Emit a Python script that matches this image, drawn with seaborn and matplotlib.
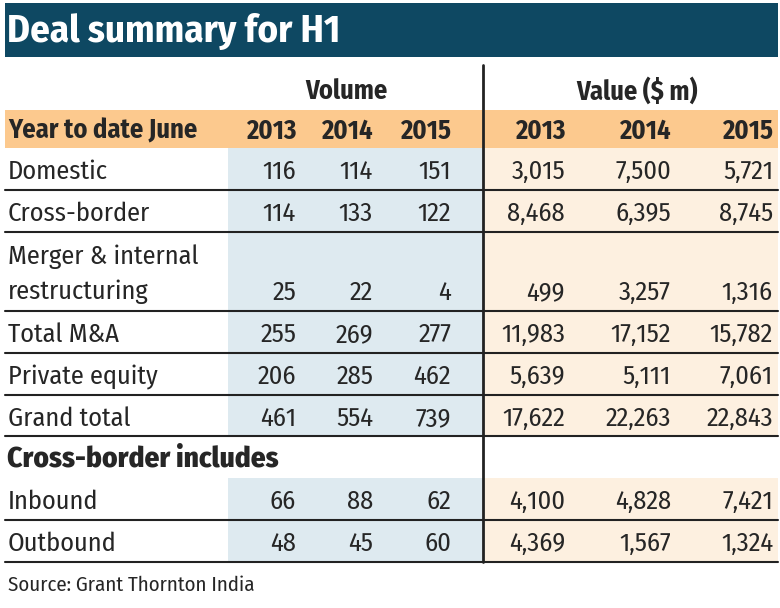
import matplotlib.pyplot as plt
import seaborn as sns

# data
title = "Deal summary for H1"
source = "Source: Grant Thornton India"
years = ["2013", "2014", "2015"]
row_labels = ["Domestic", "Cross-border", "Merger & internal\nrestructuring",
              "Total M&A", "Private equity", "Grand total",
              "Cross-border includes", "Inbound", "Outbound"]
volume_2013 = [116, 114, 25, 255, 206, 461, None, 66, 48]
volume_2014 = [114, 133, 22, 269, 285, 554, None, 88, 45]
volume_2015 = [151, 122, 4, 277, 462, 739, None, 62, 60]
value_2013 = [3015, 8468, 499, 11983, 5639, 17622, None, 4100, 4369]
value_2014 = [7500, 6395, 3257, 17152, 5111, 22263, None, 4828, 1567]
value_2015 = [5721, 8745, 1316, 15782, 7061, 22843, None, 7421, 1324]
row_units = [1, 1, 1.9, 1, 1, 1, 1, 1, 1]

sns.set_theme(style="white")
plt.rcParams['font.family'] = ['Fira Sans Condensed', 'Roboto Condensed', 'DejaVu Sans']

W, H = 780, 608
fig = plt.figure(figsize=(W / 100, H / 100), dpi=100)
ax = fig.add_axes([0, 0, 1, 1])
ax.set_xlim(0, W)
ax.set_ylim(H, 0)
ax.axis("off")

teal = "#0e4862"
orange = "#fcc98e"
blue = "#deeaf0"
beige = "#fdf0e0"
line_c = "#222222"
left, right, mid = 5, 778, 483
vol_x = [296, 373, 451]
val_x = [565, 671, 773]
fs = 19

# title bar
ax.add_patch(plt.Rectangle((left, 3), right - left, 54, color=teal, lw=0))
ax.text(7, 32, title, color="white", fontsize=28, fontweight="bold",
        va="center", ha="left")

# group headers
ax.text(346, 91, "Volume", fontsize=fs, fontweight="bold",
        ha="center", va="center")
ax.text(637, 91, "Value ($ m)", fontsize=fs, fontweight="bold",
        ha="center", va="center")

# header row
ax.add_patch(plt.Rectangle((left, 110), right - left, 38, color=orange, lw=0))
ax.text(8, 131, "Year to date June", fontsize=fs, fontweight="bold",
        ha="left", va="center")
for x, yr in zip(vol_x, years):
    ax.text(x, 131, yr, fontsize=fs, fontweight="bold", ha="right", va="center")
for x, yr in zip(val_x, years):
    ax.text(x, 131, yr, fontsize=fs, fontweight="bold", ha="right", va="center")

# body rows
unit = 41.8
top = 148
vols = list(zip(volume_2013, volume_2014, volume_2015))
vals = list(zip(value_2013, value_2014, value_2015))
for i, label in enumerate(row_labels):
    h = row_units[i] * unit
    bottom = top + h
    ynum = bottom - unit / 2 + 3
    if vols[i][0] is None:
        ax.text(7, top + h / 2 + 2, label, fontsize=21, fontweight="heavy",
                ha="left", va="center")
    else:
        ax.add_patch(plt.Rectangle((228, top), mid - 228, h, color=blue, lw=0))
        ax.add_patch(plt.Rectangle((mid, top), right - mid, h, color=beige, lw=0))
        ax.text(8, top + h / 2 + 3, label, fontsize=fs, ha="left", va="center",
                linespacing=1.5)
        for x, v in zip(vol_x, vols[i]):
            ax.text(x, ynum, f"{v:,}", fontsize=fs, ha="right", va="center")
        for x, v in zip(val_x, vals[i]):
            ax.text(x, ynum, f"{v:,}", fontsize=fs, ha="right", va="center")
    if vols[i][0] is not None:
        ax.plot([left, right], [bottom, bottom], color=line_c, lw=1.5)
    top = bottom

# vertical divider
ax.plot([mid, mid], [65, top], color=line_c, lw=2)

ax.text(8, 585, source, fontsize=15, ha="left", va="center")

fig.savefig("out.png", dpi=100)
